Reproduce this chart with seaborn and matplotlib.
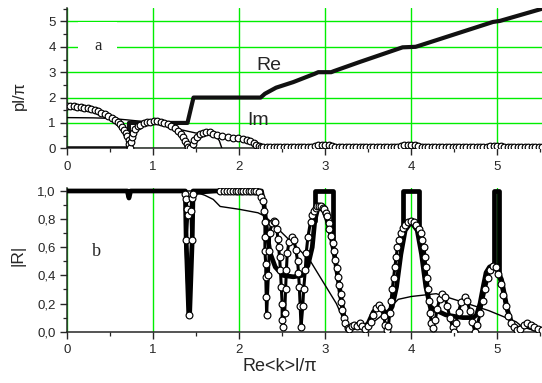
import numpy as np
import pandas as pd
import matplotlib
matplotlib.use("Agg")
import matplotlib.pyplot as plt
import seaborn as sns
from matplotlib.ticker import MultipleLocator, FuncFormatter

# ---------------- data: top panel (pl/pi) ----------------
re_x = [0, 0.72, 0.72, 1.40, 1.47, 2.25, 2.30, 2.43, 2.63, 2.88, 2.92, 3.07, 3.10,
        3.40, 3.90, 4.05, 4.08, 4.95, 5.03, 5.52]
re_y = [0, 0, 1.0, 1.0, 2.0, 2.0, 2.15, 2.39, 2.61, 2.94, 3.0, 3.0, 3.04,
        3.40, 3.98, 4.0, 4.03, 4.98, 5.02, 5.50]

imthin_x = [0, 0.30, 0.50, 0.70, 0.93, 1.18, 1.50, 1.56, 1.62, 1.68, 1.73, 1.77, 1.80]
imthin_y = [1.21, 1.20, 1.18, 1.12, 1.04, 0.84, 0.60, 0.63, 0.64, 0.60, 0.48, 0.30, 0.0]

imc_x = [0.00, 0.04, 0.08, 0.12, 0.16, 0.20, 0.24, 0.28, 0.32, 0.36, 0.40, 0.44, 0.48,
         0.52, 0.56, 0.59, 0.62, 0.645, 0.665, 0.685, 0.70, 0.715, 0.725, 0.735,
         0.745, 0.755, 0.77, 0.79, 0.82, 0.85, 0.89, 0.93, 0.97, 1.01, 1.05, 1.09,
         1.13, 1.17, 1.21, 1.25, 1.29, 1.32, 1.345, 1.37, 1.39, 1.41, 1.43,
         1.46, 1.48, 1.51, 1.54, 1.58, 1.62, 1.66, 1.70, 1.74, 1.80, 1.87, 1.93,
         1.99, 2.04, 2.09, 2.13, 2.17, 2.20, 2.23, 2.26,
         2.28, 2.32, 2.36, 2.40, 2.44, 2.48, 2.52, 2.56, 2.60, 2.64, 2.68, 2.72,
         2.76, 2.80, 2.84, 2.88, 2.92, 2.96, 3.00, 3.04, 3.08, 3.12, 3.16, 3.20,
         3.24, 3.28, 3.32, 3.36, 3.40, 3.44, 3.48, 3.52, 3.56, 3.60, 3.64, 3.68,
         3.72, 3.76, 3.80, 3.84, 3.88, 3.92, 3.96, 4.00, 4.04, 4.08, 4.12, 4.16,
         4.20, 4.24, 4.28, 4.32, 4.36, 4.40, 4.44, 4.48, 4.52, 4.56, 4.60, 4.64,
         4.68, 4.72, 4.76, 4.80, 4.84, 4.88, 4.92, 4.96, 5.00, 5.04, 5.08, 5.12,
         5.16, 5.20, 5.24, 5.28, 5.32, 5.36, 5.40, 5.44, 5.48, 5.52]
imc_y = [1.66, 1.66, 1.65, 1.64, 1.62, 1.60, 1.57, 1.54, 1.50, 1.46, 1.41, 1.35, 1.28,
         1.21, 1.12, 1.03, 0.94, 0.84, 0.73, 0.60, 0.47, 0.33, 0.18, 0.03,
         0.25, 0.45, 0.62, 0.76, 0.86, 0.93, 0.99, 1.03, 1.05, 1.06, 1.06, 1.04,
         1.01, 0.96, 0.89, 0.80, 0.68, 0.56, 0.44, 0.30, 0.17, 0.05, 0.0,
         0.15, 0.32, 0.46, 0.55, 0.61, 0.65, 0.63, 0.58, 0.52, 0.47, 0.45, 0.42,
         0.39, 0.36, 0.33, 0.27, 0.20, 0.13, 0.09, 0.07,
         0.07, 0.07, 0.07, 0.07, 0.07, 0.07, 0.07, 0.07, 0.07, 0.07, 0.07, 0.07,
         0.07, 0.07, 0.07, 0.08, 0.12, 0.14, 0.14, 0.12, 0.08, 0.07, 0.07, 0.07,
         0.07, 0.07, 0.07, 0.07, 0.07, 0.07, 0.07, 0.07, 0.07, 0.07, 0.07, 0.07,
         0.07, 0.07, 0.07, 0.07, 0.08, 0.12, 0.14, 0.14, 0.12, 0.08, 0.07, 0.07,
         0.07, 0.07, 0.07, 0.07, 0.07, 0.07, 0.07, 0.07, 0.07, 0.07, 0.07, 0.07,
         0.07, 0.07, 0.07, 0.07, 0.07, 0.07, 0.08, 0.09, 0.10, 0.08, 0.07, 0.07,
         0.07, 0.07, 0.07, 0.07, 0.07, 0.07, 0.07, 0.07, 0.07, 0.07]

# ---------------- data: bottom panel (|R|) ----------------
thick_x = [0, 0.70, 0.72, 0.74, 1.375, 1.385, 1.415, 1.425, 1.455, 1.465, 2.22, 2.26,
           2.29, 2.32, 2.36, 2.42, 2.51, 2.63, 2.73, 2.80, 2.85, 2.88, 2.92, 2.97,
           3.02, 3.07, 3.12, 3.17, 3.22, 3.26, 3.30, 3.35, 3.40, 3.45, 3.50, 3.56,
           3.63, 3.68, 3.73, 3.78, 3.83, 3.88, 3.93, 4.00, 4.07, 4.12, 4.17, 4.22,
           4.28, 4.33, 4.40, 4.49, 4.60, 4.72, 4.76, 4.80, 4.84, 4.87, 4.91, 4.95,
           5.00, 5.05, 5.12, 5.17, 5.22, 5.28, 5.35, 5.42, 5.52]
thick_y = [1, 1, 0.95, 1, 1, 0.65, 0.12, 0.12, 0.65, 1, 1, 1.0,
           0.90, 0.72, 0.56, 0.46, 0.40, 0.39, 0.40, 0.47, 0.60, 0.79, 0.89, 0.88,
           0.80, 0.68, 0.50, 0.30, 0.10, 0.02, 0.03, 0.05, 0.04, 0.03, 0.06, 0.14,
           0.19, 0.15, 0.12, 0.18, 0.32, 0.55, 0.72, 0.78, 0.72, 0.55, 0.32, 0.18,
           0.15, 0.14, 0.12, 0.11, 0.10, 0.10, 0.12, 0.20, 0.33, 0.42, 0.46, 0.47,
           0.44, 0.37, 0.15, 0.06, 0.02, 0.03, 0.04, 0.02, 0.01]

gap_left = [2.885, 3.91, 4.965]
gap_right = [3.09, 4.09, 5.025]
gap_foot_l = [0.79, 0.70, 0.45]
gap_foot_r = [0.63, 0.70, 0.40]

thinb_x = [0, 1.45, 1.60, 1.70, 1.78, 2.00, 2.22, 2.30, 2.39, 2.47, 2.82, 3.13,
           3.25, 3.32, 3.52, 3.67, 3.85, 4.00, 4.29, 4.60, 4.90, 5.22, 5.30, 5.52]
thinb_y = [1, 1, 0.97, 0.94, 0.89, 0.87, 0.845, 0.82, 0.77, 0.72, 0.51, 0.20,
           0.035, 0.02, 0.05, 0.12, 0.23, 0.25, 0.27, 0.21, 0.15, 0.07, 0.03, 0.0]

rc_x = [1.375, 1.385, 1.395, 1.405, 1.38, 1.415, 1.45, 1.44, 1.45, 1.46,
        1.78, 1.82, 1.86, 1.90, 1.93, 1.96, 1.99, 2.02, 2.05, 2.08, 2.11, 2.14, 2.17, 2.20,
        2.23, 2.26, 2.28, 2.29, 2.30, 2.30, 2.30, 2.31, 2.31, 2.315, 2.32,
        2.34, 2.35, 2.355, 2.38, 2.40, 2.42, 2.44, 2.45, 2.46, 2.47, 2.48, 2.49, 2.50,
        2.50, 2.51, 2.53, 2.54, 2.55, 2.56, 2.58, 2.61, 2.64, 2.66, 2.68, 2.69, 2.70,
        2.71, 2.72, 2.74, 2.75, 2.77, 2.78, 2.80, 2.83, 2.85, 2.87, 2.89, 2.91, 2.93,
        2.95, 2.97, 2.99, 3.01, 3.02, 3.04, 3.05, 3.07, 3.09, 3.105, 3.12, 3.135, 3.15,
        3.165, 3.18, 3.19, 3.20, 3.215, 3.23, 3.26, 3.28, 3.31, 3.34, 3.37, 3.40, 3.43,
        3.46, 3.50, 3.53, 3.56, 3.59, 3.62, 3.65, 3.68, 3.70, 3.72, 3.735, 3.75, 3.765,
        3.78, 3.795, 3.81, 3.825, 3.84, 3.86, 3.88, 3.905, 3.93, 3.96, 4.00, 4.03, 4.06,
        4.085, 4.11, 4.13, 4.15, 4.16, 4.17, 4.185, 4.20, 4.21, 4.22, 4.235, 4.25, 4.28,
        4.30, 4.33, 4.36, 4.39, 4.42, 4.45, 4.48, 4.50, 4.52, 4.55, 4.58, 4.62, 4.65,
        4.68, 4.71, 4.74, 4.77, 4.80, 4.83, 4.86, 4.89, 4.92, 4.95, 4.98, 5.01, 5.04,
        5.07, 5.10, 5.13, 5.16, 5.19, 5.23, 5.27, 5.31, 5.35, 5.39, 5.43, 5.47, 5.52]
rc_y = [0.98, 0.94, 0.87, 0.83, 0.65, 0.12, 0.65, 0.86, 0.95, 0.98,
        1.0, 1.0, 1.0, 1.0, 1.0, 1.0, 1.0, 1.0, 1.0, 1.0, 1.0, 1.0, 1.0, 1.0,
        0.99, 0.96, 0.93, 0.86, 0.78, 0.67, 0.57, 0.48, 0.39, 0.25, 0.12,
        0.40, 0.57, 0.70, 0.77, 0.79, 0.78, 0.73, 0.66, 0.60, 0.53, 0.44, 0.32, 0.20,
        0.08, 0.035, 0.13, 0.30, 0.44, 0.56, 0.64, 0.675, 0.65, 0.58, 0.50, 0.42, 0.32,
        0.18, 0.035, 0.18, 0.30, 0.44, 0.56, 0.675, 0.78, 0.83, 0.86, 0.88, 0.89, 0.895,
        0.89, 0.88, 0.87, 0.84, 0.82, 0.77, 0.73, 0.68, 0.63, 0.57, 0.51, 0.45, 0.39,
        0.33, 0.27, 0.21, 0.155, 0.10, 0.06, 0.024, 0.02, 0.04, 0.05, 0.04, 0.06, 0.04,
        0.02, 0.04, 0.07, 0.12, 0.17, 0.19, 0.17, 0.11, 0.05, 0.01, 0.04, 0.13, 0.22,
        0.30, 0.38, 0.46, 0.53, 0.60, 0.65, 0.70, 0.74, 0.76, 0.78, 0.79, 0.78, 0.76,
        0.73, 0.70, 0.65, 0.60, 0.53, 0.46, 0.38, 0.30, 0.22, 0.13, 0.06, 0.024, 0.08,
        0.16, 0.23, 0.27, 0.25, 0.18, 0.10, 0.03, 0.0, 0.06, 0.14, 0.21, 0.25, 0.22,
        0.15, 0.07, 0.0, 0.05, 0.13, 0.22, 0.30, 0.38, 0.44, 0.47, 0.46, 0.41, 0.34,
        0.26, 0.18, 0.11, 0.06, 0.03, 0.01, 0.02, 0.05, 0.06, 0.05, 0.03, 0.02, 0.01]

x_ticks = [0, 1, 2, 3, 4, 5]

# ---------------- style ----------------
sns.set_style("ticks")
plt.rcParams['font.family'] = ['Liberation Sans', 'DejaVu Sans']
plt.rcParams['axes.linewidth'] = 1.1

GREEN = '#00ee00'
fig = plt.figure(figsize=(5.42, 3.83), dpi=100)
ax1 = fig.add_axes([0.1236, 0.6128, 0.8764, 0.3663])
ax2 = fig.add_axes([0.1236, 0.134, 0.8764, 0.3747])


def line(ax, x, y, **kw):
    sns.lineplot(x=x, y=y, ax=ax, sort=False, estimator=None, legend=False, **kw)


# top panel
line(ax1, imthin_x, imthin_y, color='black', lw=1.0, zorder=3)
line(ax1, re_x, re_y, color='#111111', lw=3.0, zorder=4)
line(ax1, imc_x, imc_y, color='#222222', lw=2.4, marker='o', markersize=4.8,
     markerfacecolor='white', markeredgecolor='black', markeredgewidth=0.85, zorder=5)

ax1.text(2.20, 3.07, 'Re', fontsize=14, ha='left', va='baseline', zorder=6)
ax1.text(2.09, 0.91, 'Im', fontsize=14, ha='left', va='baseline', zorder=6)
ax1.text(0.36, 4.05, 'a', fontsize=12, family=['Liberation Serif'], ha='center', va='center',
         bbox=dict(facecolor='white', edgecolor='none', boxstyle='square,pad=0.95'), zorder=6)

ax1.set_xlim(0, 5.52)
ax1.set_ylim(0, 5.53)
ax1.set_xticks(x_ticks)
ax1.xaxis.set_minor_locator(MultipleLocator(0.5))
ax1.yaxis.set_major_locator(MultipleLocator(1))
ax1.yaxis.set_minor_locator(MultipleLocator(0.5))
ax1.grid(True, which='major', color=GREEN, lw=1.0)
ax1.set_axisbelow(True)
ax1.set_ylabel('pl/π', fontsize=12)
ax1.yaxis.set_label_coords(-0.084, 0.373)
ax1.set_xlabel('')

# bottom panel
line(ax2, thinb_x, thinb_y, color='black', lw=1.0, zorder=3)
line(ax2, thick_x, thick_y, color='black', lw=3.4, zorder=4)
for xl, xr, fl, fr in zip(gap_left, gap_right, gap_foot_l, gap_foot_r):
    line(ax2, [xl, xl, xr, xr], [fl, 1.0, 1.0, fr], color='black', lw=3.4, zorder=4)
line(ax2, rc_x, rc_y, color='black', lw=2.2, marker='o', markersize=4.9,
     markerfacecolor='white', markeredgecolor='black', markeredgewidth=0.85, zorder=5)

ax2.text(0.345, 0.57, 'b', fontsize=13, family=['Liberation Serif'], ha='center', va='center')

ax2.set_xlim(0, 5.52)
ax2.set_ylim(0, 1.02)
ax2.set_xticks(x_ticks)
ax2.xaxis.set_minor_locator(MultipleLocator(0.5))
ax2.yaxis.set_major_locator(MultipleLocator(0.2))
ax2.yaxis.set_minor_locator(MultipleLocator(0.1))
ax2.yaxis.set_major_formatter(FuncFormatter(lambda v, p: f"{v:.1f}".replace('.', ',')))
ax2.xaxis.grid(True, which='major', color=GREEN, lw=1.0)
ax2.yaxis.grid(False)
ax2.set_axisbelow(True)
ax2.set_ylabel('|R|', fontsize=12.5)
ax2.yaxis.set_label_coords(-0.088, 0.531)
ax2.set_xlabel('Re<k>l/π', fontsize=13)
ax2.xaxis.set_label_coords(0.449, -0.18)

for ax in (ax1, ax2):
    ax.spines[['top', 'right']].set_visible(False)
    ax.tick_params(which='major', direction='out', length=5, width=1.0, labelsize=9.5, pad=3)
    ax.tick_params(which='minor', direction='out', length=3, width=0.9)
    ax.tick_params(axis='x', which='major', pad=4)

fig.savefig('out.png', dpi=100)
